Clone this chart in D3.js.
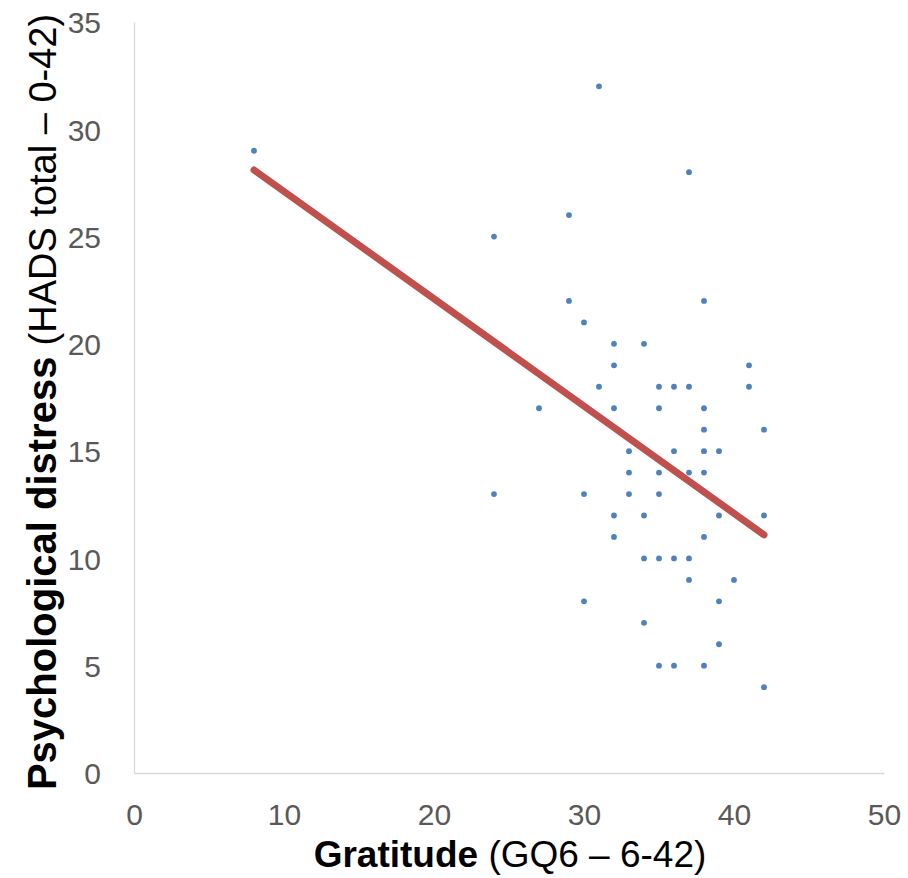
<!DOCTYPE html>
<html>
<head>
<meta charset="utf-8">
<script src="https://cdn.jsdelivr.net/npm/d3@7"></script>
<style>
  body { margin: 0; background: #fff; }
  svg { display: block; font-family: "Liberation Sans", Arial, sans-serif; }
</style>
</head>
<body>
<svg width="908" height="878"></svg>
<script>
// gratitude (GQ6) score of each respondent
const gratitude = [8, 24, 24, 27, 29, 29, 30, 30, 30, 31, 31,
  32, 32, 32, 32, 32, 33, 33, 33, 34, 34, 34, 34,
  35, 35, 35, 35, 35, 35, 36, 36, 36, 36,
  37, 37, 37, 37, 37, 38, 38, 38, 38, 38, 38, 38,
  39, 39, 39, 39, 40, 41, 41, 42, 42, 42];
// matching HADS total
const distress = [29, 25, 13, 17, 26, 22, 21, 13, 8, 32, 18,
  20, 19, 17, 12, 11, 15, 14, 13, 20, 12, 10, 7,
  18, 17, 14, 13, 10, 5, 18, 15, 10, 5,
  28, 18, 14, 10, 9, 22, 17, 16, 15, 14, 11, 5,
  15, 12, 8, 6, 9, 19, 18, 16, 12, 4];

const xTicks = [0, 10, 20, 30, 40, 50];
const yTicks = [0, 5, 10, 15, 20, 25, 30, 35];

const svg = d3.select("svg");

const x = d3.scaleLinear().domain([0, 50]).range([134, 884]);
const y = d3.scaleLinear().domain([0, 35]).range([773, 22]);

const points = gratitude.map((g, i) => ({ g: g, d: distress[i] }));

// least squares trend line, like Excel's linear trendline
const mx = d3.mean(points, p => p.g), my = d3.mean(points, p => p.d);
const slope = d3.sum(points, p => (p.g - mx) * (p.d - my)) / d3.sum(points, p => (p.g - mx) * (p.g - mx));
const icpt = my - slope * mx;
const [gMin, gMax] = d3.extent(gratitude);
const trend = [gMin, gMax].map(g => ({ g: g, d: icpt + slope * g }));

// axes
const xAxis = svg.append("g")
  .attr("transform", "translate(0," + y(0) + ")")
  .call(d3.axisBottom(x).tickValues(xTicks).tickSize(0).tickPadding(30));
const yAxis = svg.append("g")
  .attr("transform", "translate(" + x(0) + ",0)")
  .call(d3.axisLeft(y).tickValues(yTicks).tickSize(0).tickPadding(33));

[xAxis, yAxis].forEach(a => {
  a.select(".domain").attr("stroke", "#d9d9d9").attr("stroke-width", 1.3);
  a.selectAll("text")
    .attr("fill", "#595959")
    .style("font-size", "30px")
    .style("font-family", "Liberation Sans, Arial, sans-serif");
});
xAxis.selectAll("text").attr("dy", "0.72em");
yAxis.selectAll("text").attr("dy", "0.36em").attr("text-anchor", "end");

// points
svg.append("g").selectAll("circle")
  .data(points)
  .enter().append("circle")
  .attr("cx", p => x(p.g))
  .attr("cy", p => y(p.d))
  .attr("r", 2.9)
  .attr("fill", "#4f81bd");

// trend line
svg.append("path")
  .datum(trend)
  .attr("d", d3.line().x(p => x(p.g)).y(p => y(p.d)))
  .attr("fill", "none")
  .attr("stroke", "#c0504d")
  .attr("stroke-width", 7)
  .attr("stroke-linecap", "round");

// axis titles
const xTitle = svg.append("text")
  .attr("x", 510)
  .attr("y", 867)
  .attr("text-anchor", "middle")
  .attr("fill", "#000");
xTitle.append("tspan").attr("font-weight", "bold").style("font-size", "37px").text("Gratitude ");
xTitle.append("tspan").style("font-size", "37px").text("(GQ6 – 6-42)");

const yTitle = svg.append("text")
  .attr("transform", "translate(56,402) rotate(-90)")
  .attr("text-anchor", "middle")
  .attr("fill", "#000");
yTitle.append("tspan").attr("font-weight", "bold").style("font-size", "40px").text("Psychological distress ");
yTitle.append("tspan").style("font-size", "38px").text("(HADS total – 0-42)");
</script>
</body>
</html>
